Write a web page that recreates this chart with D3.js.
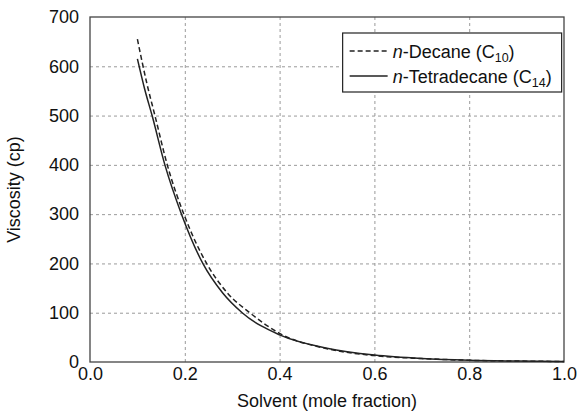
<!DOCTYPE html>
<meta charset="utf-8">
<style>
body { margin: 0; background: #fff; }
text { font-family: "Liberation Sans", Arial, sans-serif; fill: #111; }
.grid line { stroke: #9a9a9a; stroke-dasharray: 3,3; stroke-width: 1px; }
.grid path { display: none; }
.axis path, .axis line { display: none; }
.axis text { font-size: 18px; }
.line { fill: none; stroke: #222; stroke-width: 1.5px; }
</style>
<body>
<script src="https://cdn.jsdelivr.net/npm/d3@7"></script>
<script>

// data
var decaneX = [0.1, 0.12, 0.137, 0.163, 0.198, 0.246, 0.29, 0.337, 0.4, 0.5, 0.6, 0.7, 0.8, 0.9, 1.0];
var decaneY = [655, 565, 500, 400, 300, 200, 140, 100, 58, 27, 13, 7, 3.5, 2, 1];
var tetraX = [0.1, 0.115, 0.131, 0.158, 0.193, 0.238, 0.28, 0.321, 0.4, 0.5, 0.6, 0.7, 0.8, 0.9, 1.0];
var tetraY = [615, 555, 500, 400, 300, 200, 140, 100, 55, 28, 14, 7, 3.5, 2, 1];
var xTicks = [0, 0.2, 0.4, 0.6, 0.8, 1.0];
var yTicks = [0, 100, 200, 300, 400, 500, 600, 700];

var margin = {top: 17, right: 14, bottom: 52, left: 90},
    width = 578 - margin.left - margin.right,
    height = 414 - margin.top - margin.bottom;

var x = d3.scaleLinear().domain([0, 1]).range([0, width]);
var y = d3.scaleLinear().domain([0, 700]).range([height, 0]);

var svg = d3.select("body").append("svg")
    .attr("width", 578)
    .attr("height", 414)
  .append("g")
    .attr("transform", "translate(" + margin.left + "," + margin.top + ")");

// grid
svg.append("g")
    .attr("class", "grid")
    .call(d3.axisBottom(x).tickValues(xTicks.slice(1, -1)).tickSize(height).tickFormat(""));
svg.append("g")
    .attr("class", "grid")
    .call(d3.axisLeft(y).tickValues(yTicks.slice(1, -1)).tickSize(-width).tickFormat(""));

// axes labels
svg.append("g")
    .attr("class", "axis")
    .attr("transform", "translate(0," + height + ")")
    .call(d3.axisBottom(x).tickValues(xTicks).tickFormat(d3.format(".1f")).tickSize(0).tickPadding(5));
svg.append("g")
    .attr("class", "axis")
    .call(d3.axisLeft(y).tickValues(yTicks).tickSize(0).tickPadding(11));

// frame
svg.append("rect")
    .attr("width", width)
    .attr("height", height)
    .attr("fill", "none")
    .attr("stroke", "#444")
    .attr("stroke-width", 1.3);

var line = d3.line()
    .curve(d3.curveMonotoneX)
    .x(function(d) { return x(d[0]); })
    .y(function(d) { return y(d[1]); });

svg.append("path")
    .datum(decaneX.map(function(v, i) { return [v, decaneY[i]]; }))
    .attr("class", "line")
    .attr("stroke-dasharray", "5,3")
    .attr("d", line);

svg.append("path")
    .datum(tetraX.map(function(v, i) { return [v, tetraY[i]]; }))
    .attr("class", "line")
    .attr("d", line);

// axis titles
svg.append("text")
    .attr("x", width / 2)
    .attr("y", height + 45)
    .attr("text-anchor", "middle")
    .style("font-size", "18px")
    .text("Solvent (mole fraction)");

svg.append("text")
    .attr("transform", "rotate(-90)")
    .attr("x", -height / 2)
    .attr("y", -70)
    .attr("text-anchor", "middle")
    .style("font-size", "18px")
    .text("Viscosity (cp)");

// legend
var legend = svg.append("g").attr("transform", "translate(" + (x(0.533)) + ",16)");
legend.append("rect")
    .attr("width", 219)
    .attr("height", 59)
    .attr("fill", "#fff")
    .attr("stroke", "#222")
    .attr("stroke-width", 1.2);

var items = [
  {name: "-Decane (C", sub: "10", dash: "5,3", yy: 18},
  {name: "-Tetradecane (C", sub: "14", dash: null, yy: 43}
];
items.forEach(function(d) {
  legend.append("line")
      .attr("x1", 7).attr("x2", 45)
      .attr("y1", d.yy).attr("y2", d.yy)
      .attr("class", "line")
      .attr("stroke-dasharray", d.dash);
  var t = legend.append("text")
      .attr("x", 50)
      .attr("y", d.yy + 6.5)
      .style("font-size", "18px");
  t.append("tspan").style("font-style", "italic").text("n");
  t.append("tspan").text(d.name);
  t.append("tspan").attr("dy", 4).style("font-size", "12.5px").text(d.sub);
  t.append("tspan").attr("dy", -4).text(")");
});

</script>
</body>
